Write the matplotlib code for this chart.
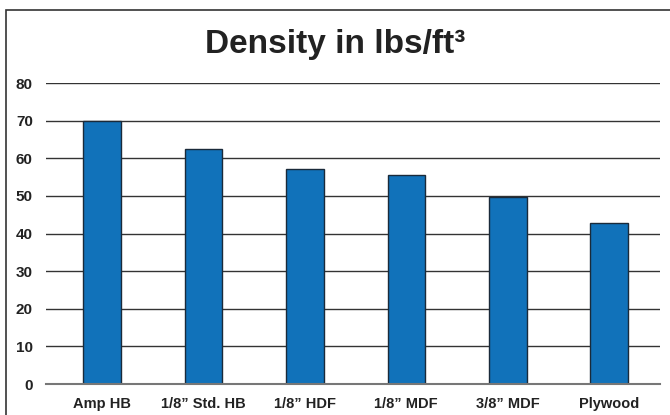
import matplotlib
matplotlib.use("Agg")
import matplotlib.pyplot as plt
from matplotlib.patches import Rectangle

# Data
materials = ["Amp HB", "1/8\u201d Std. HB", "1/8\u201d HDF", "1/8\u201d MDF", "3/8\u201d MDF", "Plywood"]
density = [70, 62.4, 57.2, 55.5, 49.8, 42.7]
yticks = [0, 10, 20, 30, 40, 50, 60, 70, 80]

plt.rcParams["font.family"] = ["Liberation Sans", "DejaVu Sans"]

fig = plt.figure(figsize=(6.7, 4.15), dpi=100)

# outer frame
fig.patches.append(Rectangle((6 / 670, -0.05), 1.0, 1 - 10 / 415 + 0.05,
                             transform=fig.transFigure, fill=False,
                             edgecolor="#333333", linewidth=1.2))

ax = fig.add_axes([46 / 670, 1 - 384 / 415, (660 - 46) / 670, (384 - 83) / 415])

x = range(len(materials))
ax.bar(x, density, width=0.37, color="#1172ba", edgecolor="#1a2a3a", linewidth=1.0, zorder=3)

ax.set_ylim(0, 80)
ax.set_xlim(-0.55, 5.5)
ax.set_yticks(yticks)
ax.set_xticks(list(x))
ax.set_xticklabels(materials, fontsize=10.5, fontweight="bold", color="#222222")
ax.set_yticklabels([str(v) for v in yticks], fontsize=11, fontweight="bold", color="#222222")
ax.tick_params(axis="x", length=0, pad=9.5)
ax.tick_params(axis="y", length=0, pad=9.5)

ax.grid(axis="y", color="#333333", linewidth=1.0, zorder=0)
for side in ["top", "right", "left"]:
    ax.spines[side].set_visible(False)
ax.spines["bottom"].set_color("#777777")
ax.spines["bottom"].set_linewidth(1.5)
ax.spines["bottom"].set_zorder(4)

fig.text(0.5, 1 - 45 / 415, "Density in lbs/ft\u00b3", ha="center", va="center",
         fontsize=24, fontweight="bold", color="#222222")

fig.savefig("out.png", dpi=100)
